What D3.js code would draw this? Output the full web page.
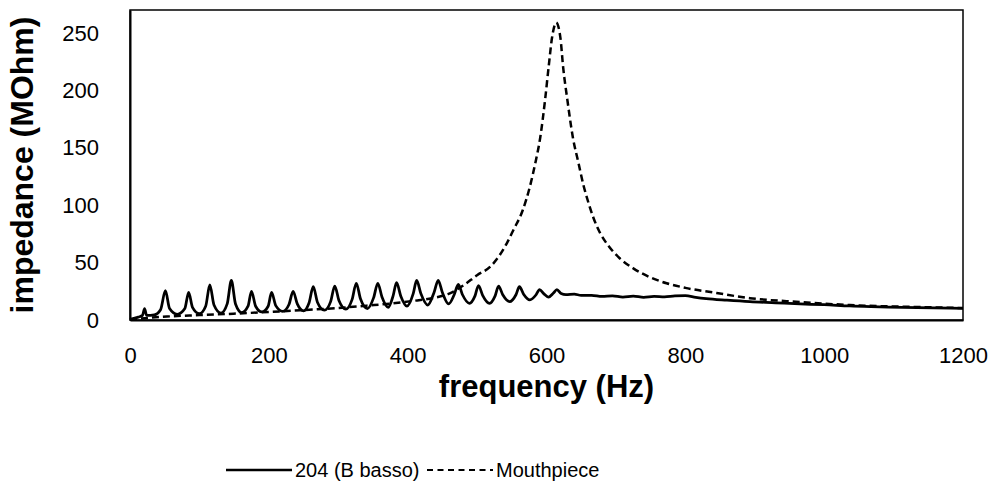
<!DOCTYPE html>
<html>
<head>
<meta charset="utf-8">
<script src="https://cdn.jsdelivr.net/npm/d3@7"></script>
<style>
  body { margin: 0; background: #fff; }
  text { font-family: "Liberation Sans", Arial, sans-serif; fill: #000; }
</style>
</head>
<body>
<div id="chart"></div>
<script>
// Dimensions
const width = 1001;
const height = 499;
const margin = { top: 10, right: 38, bottom: 179, left: 130 };

// Axis ticks
const xTicks = [0, 200, 400, 600, 800, 1000, 1200];
const yTicks = [0, 50, 100, 150, 200, 250];

// Series: 204 (B basso)
const bassoFreq = [0, 12, 18, 21, 24, 35, 44, 51, 57, 68, 79, 84.5, 90, 100, 109, 115, 121, 131, 140, 146,
    152, 161, 170, 175, 181, 190, 199, 204, 210, 220, 229, 235, 241, 250, 258, 264, 270, 280, 289, 295,
    301, 311, 320, 326, 332, 342, 351, 357, 363, 372, 379, 384, 390, 399, 408, 413, 419, 429, 438, 444,
    450, 459, 467, 473, 479, 489, 497, 502, 508, 518, 526, 531, 537, 547, 556, 561, 567, 576, 585, 590,
    596, 603, 610, 615, 621, 628, 640, 650, 665, 680, 695, 710, 725, 740, 755, 770, 785, 800, 815, 830,
    860, 893, 930, 965, 1000, 1037, 1080, 1134, 1200];
const bassoImp = [0.5, 2.5, 4, 10, 4, 4.5, 9, 25.5, 10, 5, 10, 24, 11, 5.5, 12, 30.5, 13, 6, 14, 34.5,
    14, 6.5, 12, 25, 12, 7, 12, 24, 12.5, 7.5, 13.5, 25, 14, 8, 15, 29, 15.5, 8.5, 16, 29.5,
    17, 9.5, 18, 32, 18.5, 10, 19.5, 32, 20, 11, 21, 32.5, 21, 12, 23, 34.5, 23, 13, 24, 34.5,
    24, 14, 22, 31, 22, 14.5, 21, 30, 21.5, 14.5, 21, 29.5, 22, 16, 22, 29, 22.5, 17.5, 22, 26.5,
    23, 20, 23.5, 26.5, 23, 22, 22.5, 21.5, 21.5, 20.5, 21, 20, 20.8, 19.8, 20.5, 20.2, 21, 21.2, 19.8, 18.7,
    17.3, 16, 15, 14, 13.3, 12.2, 11.5, 10.7, 10.2];

// Series: Mouthpiece
const mouthFreq = [0, 53, 100, 149, 200, 245, 300, 341, 379, 406, 435, 460, 480, 500, 520, 543, 552, 566,
    576, 584, 591, 598, 603, 608, 614, 620, 624, 630, 638, 646, 653, 660, 667, 677, 690, 705, 725, 750,
    773, 800, 845, 893, 965, 1037, 1134, 1200];
const mouthImp = [0.5, 3, 4.3, 5.5, 7, 8.5, 10.5, 12.5, 14.5, 16.5, 19, 23, 30, 39, 47, 67, 78, 96,
    116, 137, 159, 192, 220, 246, 259, 246, 220, 192, 159, 137, 118, 103, 90, 76, 64, 54, 45, 37,
    32, 28, 23.5, 19, 15.7, 13, 11.3, 10.4];

const seriesNames = ["204 (B basso)", "Mouthpiece"];

const svg = d3.select("#chart")
    .append("svg")
    .attr("width", width)
    .attr("height", height);

const x = d3.scaleLinear()
    .domain([0, 1200])
    .range([margin.left, width - margin.right]);

const y = d3.scaleLinear()
    .domain([0, 270])
    .range([height - margin.bottom, margin.top]);

// Plot frame
svg.append("rect")
    .attr("x", x(0))
    .attr("y", y(270))
    .attr("width", x(1200) - x(0))
    .attr("height", y(0) - y(270))
    .attr("fill", "none")
    .attr("stroke", "#000")
    .attr("stroke-width", 1.5);

// Axes (labels only, no tick marks)
const xAxis = svg.append("g")
    .attr("transform", `translate(0,${y(0)})`)
    .call(d3.axisBottom(x).tickValues(xTicks).tickFormat(d3.format("d")).tickSize(0).tickPadding(27));
const yAxis = svg.append("g")
    .attr("transform", `translate(${x(0)},0)`)
    .call(d3.axisLeft(y).tickValues(yTicks).tickFormat(d3.format("d")).tickSize(0).tickPadding(31));

[xAxis, yAxis].forEach(ax => {
    ax.select(".domain").attr("stroke", "#000").attr("stroke-width", 2);
    ax.selectAll("text")
        .attr("font-size", "22px")
        .attr("font-family", "Liberation Sans, Arial, sans-serif")
        .attr("fill", "#000");
});

// Axis titles
svg.append("text")
    .attr("x", (x(0) + x(1200)) / 2)
    .attr("y", 397)
    .attr("text-anchor", "middle")
    .attr("font-size", "31px")
    .attr("font-weight", "bold")
    .text("frequency (Hz)");

svg.append("text")
    .attr("transform", `translate(33,${(y(0) + y(270)) / 2}) rotate(-90)`)
    .attr("text-anchor", "middle")
    .attr("font-size", "32px")
    .attr("font-weight", "bold")
    .text("impedance (MOhm)");

// Lines
const line = d3.line()
    .x(d => x(d[0]))
    .y(d => y(d[1]))
    .curve(d3.curveMonotoneX);

svg.append("path")
    .datum(mouthFreq.map((f, i) => [f, mouthImp[i]]))
    .attr("d", line)
    .attr("fill", "none")
    .attr("stroke", "#000")
    .attr("stroke-width", 2.5)
    .attr("stroke-dasharray", "7,4");

svg.append("path")
    .datum(bassoFreq.map((f, i) => [f, bassoImp[i]]))
    .attr("d", line)
    .attr("fill", "none")
    .attr("stroke", "#000")
    .attr("stroke-width", 2.75)
    .attr("stroke-linejoin", "round");

// Legend
const legendItems = [
    { name: seriesNames[0], x: 226, dash: null },
    { name: seriesNames[1], x: 427, dash: "6,4.5" }
];
const legend = svg.append("g").attr("transform", "translate(0,470)");
legendItems.forEach(item => {
    legend.append("line")
        .attr("x1", item.x)
        .attr("x2", item.x + 66)
        .attr("y1", 0)
        .attr("y2", 0)
        .attr("stroke", "#000")
        .attr("stroke-width", item.dash ? 2 : 2.5)
        .attr("stroke-dasharray", item.dash);
    legend.append("text")
        .attr("x", item.x + 69)
        .attr("y", 7)
        .attr("font-size", "20px")
        .text(item.name);
});
</script>
</body>
</html>
